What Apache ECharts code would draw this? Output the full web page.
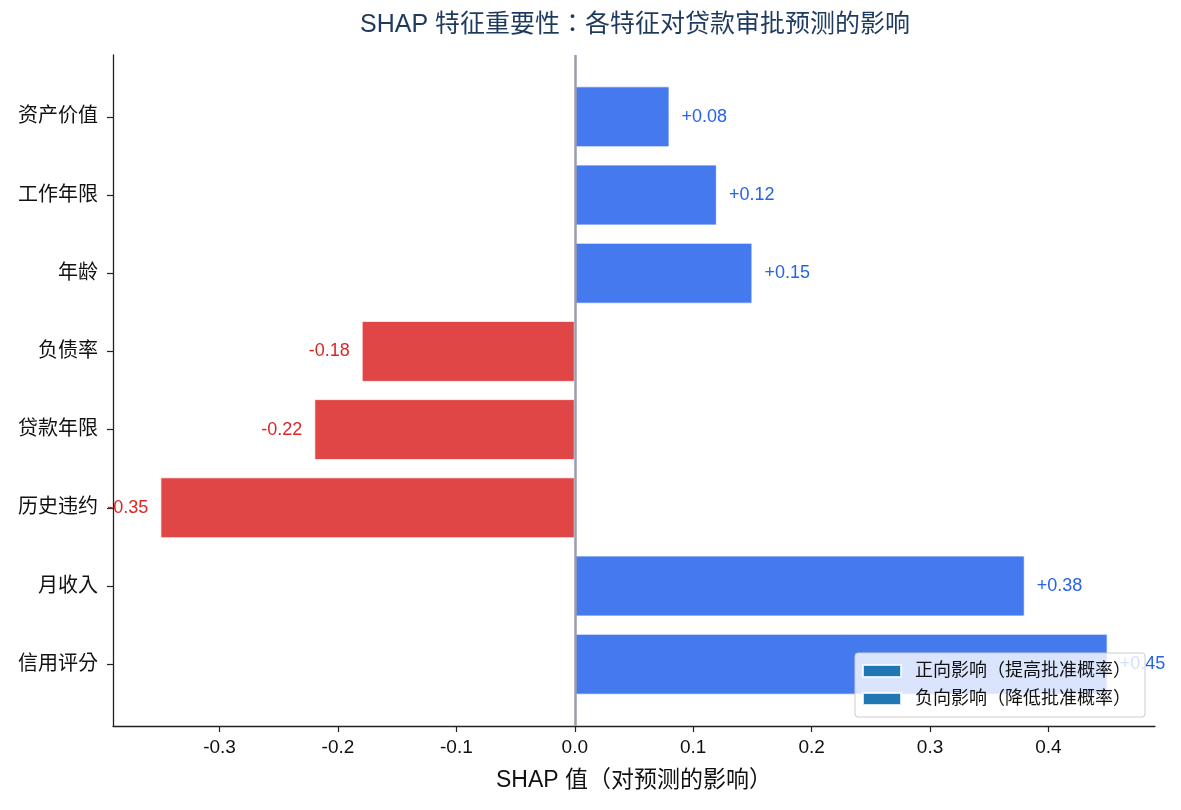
<!DOCTYPE html>
<html>
<head>
<meta charset="utf-8">
<script src="https://cdn.jsdelivr.net/npm/echarts@6/dist/echarts.min.js"></script>
<style>html,body{margin:0;padding:0;background:#fff}#c{width:1181px;height:810px}</style>
</head>
<body>
<div id="c"></div>
<script>
const categories = ['资产价值','工作年限','年龄','负债率','贷款年限','历史违约','月收入','信用评分'];
const shapValues = [0.08, 0.12, 0.15, -0.18, -0.22, -0.35, 0.38, 0.45];
const xTicks = [-0.3, -0.2, -0.1, 0.0, 0.1, 0.2, 0.3, 0.4];
const legendNames = ['正向影响（提高批准概率）', '负向影响（降低批准概率）'];

const FONT = '"Liberation Sans", "Noto Sans CJK TC", sans-serif';
const posBar = 'rgba(37,99,235,0.85)', negBar = 'rgba(220,38,38,0.85)';
const posText = '#2563eb', negText = '#dc2626';

function fmt(v){ return (v > 0 ? '+' : '') + v.toFixed(2); }

const posData = shapValues.map(v => v > 0 ? {value: v, itemStyle:{color: posBar}} : '-');
const negData = shapValues.map(v => v < 0 ? {value: v, itemStyle:{color: negBar}} : '-');

const chart = echarts.init(document.getElementById('c'), null, {renderer:'canvas'});
chart.setOption({
  backgroundColor: '#fff',
  animation: false,
  textStyle: {fontFamily: FONT},
  title: {
    text: 'SHAP 特征重要性：各特征对贷款审批预测的影响',
    left: 630, top: 8, textAlign: 'center',
    textStyle: {fontFamily: FONT, fontSize: 25, fontWeight: 'normal', color: '#1e3a5f'}
  },
  legend: {
    orient: 'vertical', right: 36, top: 653,
    data: legendNames,
    icon: 'rect',
    itemWidth: 38, itemHeight: 12, itemGap: 10,
    padding: [9, 14, 9, 7],
    backgroundColor: 'rgba(255,255,255,0.8)',
    borderColor: '#cccccc', borderWidth: 1, borderRadius: 3,
    textStyle: {fontFamily: FONT, fontSize: 18, color: '#111', padding: [0, 0, 0, 9]},
    selectedMode: false
  },
  grid: [
    {left: 113, right: 26, top: 55, bottom: 84, containLabel: false},
    {left: 113, right: 26, top: 77.7, bottom: 106.7, containLabel: false}
  ],
  xAxis: [
    {
      type: 'value', gridIndex: 0, min: -0.39, max: 0.49,
      name: 'SHAP 值（对预测的影响）', nameLocation: 'middle', nameGap: 43,
      nameTextStyle: {fontFamily: FONT, fontSize: 23, color: '#111'},
      axisLine: {show: true, onZero: false, lineStyle: {color: '#222', width: 1.3}},
      axisTick: {show: true, length: 6, lineStyle: {color: '#222', width: 1.2}, customValues: xTicks},
      axisLabel: {show: true, fontSize: 19, color: '#111', margin: 12, customValues: xTicks,
                  formatter: v => v.toFixed(1)},
      splitLine: {show: false}
    },
    {
      type: 'value', gridIndex: 1, min: -0.39, max: 0.49, show: false
    }
  ],
  yAxis: [
    {
      type: 'value', gridIndex: 0, min: 0, max: 1,
      axisLine: {show: true, onZero: false, lineStyle: {color: '#222', width: 1.3}},
      axisTick: {show: false}, axisLabel: {show: false}, splitLine: {show: false}
    },
    {
      type: 'category', gridIndex: 1, data: categories, inverse: true,
      axisLine: {show: false, onZero: false},
      axisTick: {show: true, alignWithLabel: true, length: 6, lineStyle: {color: '#222', width: 1.2}},
      axisLabel: {fontSize: 20, color: '#111', margin: 15},
      splitLine: {show: false}
    }
  ],
  series: [
    {
      name: legendNames[0], type: 'bar', xAxisIndex: 1, yAxisIndex: 1,
      data: posData, barWidth: '78%', barGap: '-100%',
      itemStyle: {color: '#1f77b4', borderColor: 'rgba(255,255,255,0.8)', borderWidth: 1},
      label: {show: true, position: 'right', distance: 12, color: posText, fontSize: 18,
              fontFamily: FONT, formatter: p => fmt(p.value)}
    },
    {
      name: legendNames[1], type: 'bar', xAxisIndex: 1, yAxisIndex: 1,
      data: negData, barWidth: '78%', barGap: '-100%',
      itemStyle: {color: '#1f77b4', borderColor: 'rgba(255,255,255,0.8)', borderWidth: 1},
      label: {show: true, position: 'left', distance: 12, color: negText, fontSize: 18,
              fontFamily: FONT, formatter: p => fmt(p.value)}
    },
    {
      type: 'line', xAxisIndex: 0, yAxisIndex: 0, data: [], z: 5, silent: true,
      markLine: {
        silent: true, symbol: ['none','none'], label: {show: false},
        lineStyle: {color: '#9a9eae', width: 2.5, type: 'solid'},
        data: [{xAxis: 0}]
      }
    }
  ]
});
</script>
</body>
</html>
